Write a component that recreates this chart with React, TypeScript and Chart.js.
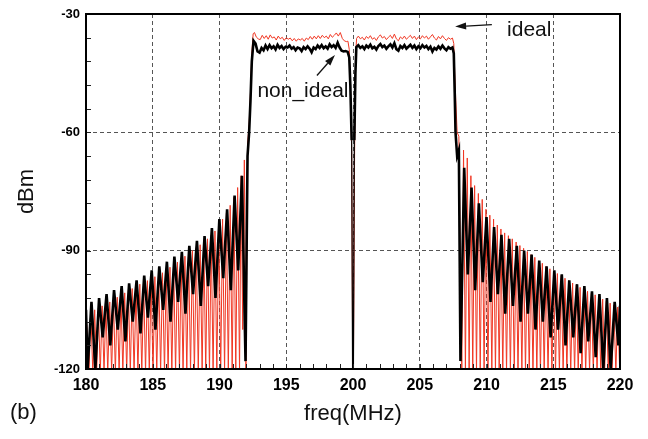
import React, { useEffect, useRef } from 'react';
import { Chart, registerables } from 'chart.js';
Chart.register(...registerables);

type P = [number, number];

const X_MIN = 180;
const X_MAX = 220;
const Y_MIN = -120;
const Y_MAX = -30;
const X_STEP = 5;
const Y_STEP = 30;

// non_ideal (black) trace
const nonIdealSkirtLeft: P[] = [
  [180.0, -105], [180.12, -120], [180.41, -103], [180.7, -120], [180.98, -102], [181.25, -112],
  [181.54, -101], [181.82, -114], [182.1, -100], [182.38, -110], [182.67, -99], [182.95, -113],
  [183.23, -98.3], [183.5, -108], [183.79, -97.5], [184.08, -111], [184.36, -96.3], [184.64, -107],
  [184.92, -95], [185.2, -110], [185.49, -94], [185.78, -105], [186.06, -92.8], [186.33, -108],
  [186.62, -91.5], [186.9, -103], [187.18, -90.3], [187.45, -106], [187.74, -88.8], [188.02, -101],
  [188.31, -87.5], [188.6, -104], [188.88, -86.3], [189.15, -99], [189.43, -84.3], [189.7, -102],
  [189.99, -82], [190.28, -97], [190.57, -79.5], [190.85, -100], [191.13, -76], [191.4, -95],
  [191.68, -71], [191.95, -118], [192.1, -66], [192.22, -60], [192.32, -52], [192.42, -42], [192.55, -36.8],
];
const nonIdealPassLeft: P[] = [
  [192.7, -37.5], [192.85, -39.5], [193.0, -39.8], [193.15, -38.6], [193.3, -39.2], [193.45, -38.0],
  [193.6, -38.9], [193.75, -37.9], [193.9, -38.7], [194.05, -38.2], [194.2, -39.0], [194.35, -37.8],
  [194.5, -38.6], [194.65, -38.1], [194.8, -38.9], [194.95, -38.3], [195.1, -38.5], [195.25, -38.0],
  [195.4, -38.8], [195.55, -38.4], [195.7, -39.2], [195.85, -38.5], [196.0, -38.7], [196.15, -39.4],
  [196.3, -38.4], [196.45, -38.9], [196.6, -38.2], [196.75, -38.8], [196.9, -39.7], [197.05, -38.5],
  [197.2, -38.9], [197.35, -38.0], [197.5, -38.6], [197.65, -37.9], [197.8, -38.7], [197.95, -38.2],
  [198.1, -38.8], [198.25, -37.7], [198.4, -38.4], [198.55, -37.9], [198.7, -38.6], [198.85, -37.3],
  [199.0, -38.5], [199.15, -39.3], [199.3, -39.5], [199.45, -39.4], [199.6, -39.6],
];
const nonIdealNotch: P[] = [
  [199.72, -41], [199.8, -48], [199.9, -62], [199.97, -121], [200.03, -121], [200.1, -62], [200.18, -45],
];
const nonIdealPassRight: P[] = [
  [200.25, -38.4], [200.4, -37.9], [200.55, -38.6], [200.7, -38.2], [200.85, -38.9], [201.0, -38.0],
  [201.15, -38.5], [201.3, -37.8], [201.45, -38.7], [201.6, -38.3], [201.75, -39.0], [201.9, -38.1],
  [202.05, -37.6], [202.2, -38.4], [202.35, -38.0], [202.5, -38.8], [202.65, -38.2], [202.8, -37.7],
  [202.95, -38.5], [203.1, -37.4], [203.25, -38.9], [203.4, -39.3], [203.55, -38.1], [203.7, -38.6],
  [203.85, -37.9], [204.0, -38.8], [204.15, -38.3], [204.3, -37.8], [204.45, -38.6], [204.6, -38.0],
  [204.75, -38.9], [204.9, -38.2], [205.05, -38.7], [205.2, -37.9], [205.35, -38.5], [205.5, -38.1],
  [205.65, -38.9], [205.8, -38.3], [205.95, -39.5], [206.1, -38.6], [206.25, -39.0], [206.4, -38.2],
  [206.55, -38.8], [206.7, -38.0], [206.85, -38.7], [207.0, -39.2], [207.15, -38.4], [207.3, -38.8],
  [207.45, -38.5],
];
const nonIdealSkirtRight: P[] = [
  [207.55, -40], [207.62, -50], [207.68, -60], [207.8, -66], [207.93, -64.5], [208.05, -118],
  [208.33, -69], [208.6, -96], [208.88, -74], [209.15, -100], [209.43, -78], [209.72, -98],
  [210.0, -81.5], [210.3, -103], [210.57, -84], [210.85, -101], [211.12, -86], [211.4, -106],
  [211.7, -87], [211.98, -104], [212.27, -88.8], [212.55, -108], [212.82, -90], [213.1, -106],
  [213.38, -91], [213.67, -110], [213.95, -92.5], [214.22, -108], [214.5, -94], [214.8, -112],
  [215.08, -95], [215.36, -110], [215.64, -96], [215.92, -114], [216.2, -97.5], [216.5, -112],
  [216.78, -98.5], [217.05, -116], [217.33, -99], [217.62, -113], [217.9, -100.3], [218.18, -117],
  [218.46, -101], [218.75, -120], [219.02, -102], [219.3, -120], [219.6, -103], [219.88, -114],
  [220.0, -104],
];

// ideal (red) trace
const idealSkirtLeft: P[] = [
  [180.0, -106.5], [180.08, -110], [180.22, -121], [180.36, -105.5], [180.51, -121], [180.65, -105],
  [180.8, -121], [180.93, -104.5], [181.07, -121], [181.21, -104], [181.35, -121], [181.49, -103.5],
  [181.63, -121], [181.78, -103], [181.92, -121], [182.06, -102.3], [182.2, -121], [182.34, -101.8],
  [182.48, -121], [182.62, -101.3], [182.76, -121], [182.9, -100.7], [183.05, -121], [183.18, -100],
  [183.32, -121], [183.46, -99.6], [183.6, -121], [183.75, -99.2], [183.89, -121], [184.03, -98.5],
  [184.18, -121], [184.32, -98.1], [184.46, -121], [184.6, -97.6], [184.74, -121], [184.88, -97.0],
  [185.02, -121], [185.16, -96.6], [185.3, -121], [185.45, -96.0], [185.59, -121], [185.73, -95.6],
  [185.88, -121], [186.01, -94.8], [186.15, -121], [186.29, -94.2], [186.43, -121], [186.57, -93.5],
  [186.71, -121], [186.85, -92.9], [187.0, -121], [187.13, -92.1], [187.27, -121], [187.41, -91.4],
  [187.55, -121], [187.69, -90.7], [187.83, -121], [187.97, -90.0], [188.12, -121], [188.26, -89.2],
  [188.41, -121], [188.55, -88.5], [188.7, -121], [188.83, -87.8], [188.97, -121], [189.1, -87.0],
  [189.25, -121], [189.38, -86.0], [189.52, -121], [189.66, -85.0], [189.8, -121], [189.95, -83.5],
  [190.09, -121], [190.23, -82.0], [190.38, -121], [190.52, -80.5], [190.66, -121], [190.8, -78.5],
  [190.95, -121], [191.08, -76.5], [191.22, -121], [191.36, -74], [191.5, -121], [191.62, -71],
  [191.74, -110], [191.86, -67], [191.98, -121], [192.1, -63], [192.22, -58], [192.32, -50],
  [192.42, -40], [192.52, -35.0],
];
const idealPassLeft: P[] = [
  [192.62, -34.7], [192.75, -35.8], [192.9, -36.3], [193.05, -36.5], [193.2, -35.4], [193.35, -36.2],
  [193.5, -35.5], [193.65, -36.4], [193.8, -35.3], [193.95, -36.1], [194.1, -35.8], [194.25, -36.6],
  [194.4, -35.6], [194.55, -36.3], [194.7, -35.9], [194.85, -36.7], [195.0, -36.0], [195.15, -36.4],
  [195.3, -36.1], [195.45, -36.8], [195.6, -36.2], [195.75, -36.9], [195.9, -36.3], [196.05, -36.6],
  [196.2, -36.2], [196.35, -36.9], [196.5, -36.1], [196.65, -36.5], [196.8, -35.7], [196.95, -36.4],
  [197.1, -35.6], [197.25, -36.3], [197.4, -35.5], [197.55, -36.2], [197.7, -35.4], [197.85, -36.0],
  [198.0, -35.6], [198.15, -36.3], [198.3, -35.2], [198.45, -35.9], [198.6, -35.4], [198.75, -34.8],
  [198.9, -35.6], [199.05, -34.7], [199.2, -36.2], [199.35, -36.8], [199.5, -37.0], [199.62, -36.9],
];
const idealNotch: P[] = [
  [199.72, -39], [199.82, -50], [199.9, -65], [199.98, -121], [200.03, -121], [200.12, -65], [200.2, -40],
];
const idealPassRight: P[] = [
  [200.27, -36.2], [200.4, -35.6], [200.55, -36.3], [200.7, -35.9], [200.85, -36.6], [201.0, -35.7],
  [201.15, -36.2], [201.3, -35.5], [201.45, -36.4], [201.6, -36.0], [201.75, -36.7], [201.9, -35.8],
  [202.05, -35.3], [202.2, -36.1], [202.35, -35.7], [202.5, -36.5], [202.65, -35.9], [202.8, -35.4],
  [202.95, -36.2], [203.1, -35.1], [203.25, -36.3], [203.4, -36.8], [203.55, -35.8], [203.7, -36.3],
  [203.85, -35.6], [204.0, -36.4], [204.15, -35.9], [204.3, -35.4], [204.45, -36.2], [204.6, -35.6],
  [204.75, -36.5], [204.9, -35.8], [205.05, -36.3], [205.2, -35.5], [205.35, -36.1], [205.5, -35.6],
  [205.65, -36.4], [205.8, -35.8], [205.95, -35.2], [206.1, -36.1], [206.25, -36.6], [206.4, -35.7],
  [206.55, -36.3], [206.7, -35.5], [206.85, -36.2], [207.0, -36.7], [207.15, -36.0], [207.3, -36.4],
  [207.45, -36.1],
];
const idealSkirtRight: P[] = [
  [207.55, -37.5], [207.62, -45], [207.7, -52], [207.8, -60], [207.93, -61], [208.04, -90],
  [208.15, -121], [208.28, -64.5], [208.42, -121], [208.56, -66.5], [208.7, -121], [208.83, -71],
  [208.97, -121], [209.11, -73.5], [209.25, -121], [209.39, -75.5], [209.53, -121], [209.68, -77],
  [209.82, -121], [209.96, -79.5], [210.11, -121], [210.25, -81], [210.4, -121], [210.53, -82],
  [210.67, -121], [210.81, -83.5], [210.95, -121], [211.08, -84.5], [211.22, -121], [211.36, -85.5],
  [211.5, -121], [211.64, -86.2], [211.79, -121], [211.93, -87], [212.08, -121], [212.22, -87.8],
  [212.36, -121], [212.5, -88.7], [212.65, -121], [212.78, -89.4], [212.92, -121], [213.06, -90.2],
  [213.2, -121], [213.34, -91], [213.48, -121], [213.62, -91.7], [213.77, -121], [213.9, -92.6],
  [214.04, -121], [214.18, -93.2], [214.32, -121], [214.46, -94], [214.61, -121], [214.75, -94.6],
  [214.9, -121], [215.03, -95.2], [215.17, -121], [215.31, -95.8], [215.46, -121], [215.6, -96.3],
  [215.74, -121], [215.88, -97], [216.02, -121], [216.16, -97.6], [216.31, -121], [216.45, -98.2],
  [216.6, -121], [216.73, -98.7], [216.87, -121], [217.01, -99.3], [217.15, -121], [217.29, -99.8],
  [217.43, -121], [217.57, -100.3], [217.72, -121], [217.86, -100.8], [218.0, -121], [218.14, -101.2],
  [218.28, -121], [218.42, -101.8], [218.56, -121], [218.7, -102.3], [218.85, -121], [218.98, -102.8],
  [219.12, -121], [219.26, -103.3], [219.4, -121], [219.54, -103.8], [219.69, -121], [219.83, -104.3],
  [219.98, -121], [220.0, -106],
];

const nonIdealPts = [...nonIdealSkirtLeft, ...nonIdealPassLeft, ...nonIdealNotch, ...nonIdealPassRight, ...nonIdealSkirtRight];
const idealPts = [...idealSkirtLeft, ...idealPassLeft, ...idealNotch, ...idealPassRight, ...idealSkirtRight];

// annotation anchors in data units
const idealLabel = { text: 'ideal', x: 213.2, y: -34.0, tail: [210.4, -32.7], tip: [207.65, -33.2] };
const nonIdealLabel = { text: 'non_ideal', x: 196.25, y: -49.6, tail: [197.3, -45.6], tip: [198.65, -40.4] };

const FONT = "'Liberation Sans', Arial, sans-serif";

function drawArrow(ctx: CanvasRenderingContext2D, x1: number, y1: number, x2: number, y2: number) {
  const ang = Math.atan2(y2 - y1, x2 - x1);
  const len = 11;
  const half = 3.5;
  const bx = x2 - len * Math.cos(ang);
  const by = y2 - len * Math.sin(ang);
  ctx.beginPath();
  ctx.moveTo(x1, y1);
  ctx.lineTo(bx, by);
  ctx.strokeStyle = '#111';
  ctx.lineWidth = 1.3;
  ctx.stroke();
  ctx.beginPath();
  ctx.moveTo(x2, y2);
  ctx.lineTo(bx - half * Math.sin(ang), by + half * Math.cos(ang));
  ctx.lineTo(bx + half * Math.sin(ang), by - half * Math.cos(ang));
  ctx.closePath();
  ctx.fillStyle = '#111';
  ctx.fill();
}

const decorPlugin = {
  id: 'decor',
  afterDraw(chart: any) {
    const { ctx, chartArea } = chart;
    const xs = chart.scales.x;
    const ys = chart.scales.y;
    ctx.save();
    ctx.strokeStyle = '#222';
    ctx.lineWidth = 1;
    for (let v = X_MIN; v <= X_MAX; v += 1) {
      const px = Math.round(xs.getPixelForValue(v)) + 0.5;
      ctx.beginPath();
      ctx.moveTo(px, chartArea.bottom);
      ctx.lineTo(px, chartArea.bottom - 5);
      ctx.stroke();
    }
    for (let v = Y_MIN; v <= Y_MAX; v += 6) {
      const py = Math.round(ys.getPixelForValue(v)) + 0.5;
      ctx.beginPath();
      ctx.moveTo(chartArea.left, py);
      ctx.lineTo(chartArea.left + 5, py);
      ctx.stroke();
    }
    ctx.strokeStyle = '#000';
    ctx.lineWidth = 2;
    ctx.strokeRect(chartArea.left, chartArea.top, chartArea.right - chartArea.left, chartArea.bottom - chartArea.top);
    ctx.fillStyle = '#111';
    ctx.font = `21px ${FONT}`;
    ctx.textAlign = 'center';
    ctx.textBaseline = 'middle';
    for (const a of [idealLabel, nonIdealLabel]) {
      ctx.fillText(a.text, xs.getPixelForValue(a.x), ys.getPixelForValue(a.y));
      drawArrow(ctx,
        xs.getPixelForValue(a.tail[0]), ys.getPixelForValue(a.tail[1]),
        xs.getPixelForValue(a.tip[0]), ys.getPixelForValue(a.tip[1]));
    }
    ctx.font = `22px ${FONT}`;
    ctx.textAlign = 'left';
    ctx.fillText('(b)', 10, 413);
    ctx.restore();
  },
};

export default function App() {
  const ref = useRef<HTMLCanvasElement | null>(null);
  useEffect(() => {
    if (!ref.current) return;
    const chart = new Chart(ref.current, {
      type: 'scatter',
      data: {
        datasets: [
          {
            label: 'non_ideal',
            data: nonIdealPts.map(([x, y]) => ({ x, y })),
            showLine: true,
            borderColor: '#000000',
            borderWidth: 2.6,
            pointRadius: 0,
            segment: {
              borderWidth: (c: any) =>
                c.p0.parsed.x > 199.5 && c.p1.parsed.x < 200.5 && c.p0.parsed.y < -55 && c.p1.parsed.y < -55 ? 1.2 : undefined,
            },
          },
          {
            label: 'ideal',
            data: idealPts.map(([x, y]) => ({ x, y })),
            showLine: true,
            borderColor: 'rgb(240,55,35)',
            borderWidth: 1,
            pointRadius: 0,
          },
        ],
      },
      options: {
        responsive: false,
        animation: false,
        layout: { padding: { top: 14, right: 28, left: 0, bottom: 0 } },
        plugins: { legend: { display: false }, tooltip: { enabled: false } },
        scales: {
          x: {
            type: 'linear',
            min: X_MIN,
            max: X_MAX,
            afterFit: (s: any) => { s.height = 70; },
            ticks: { stepSize: X_STEP, color: '#000', font: { family: FONT, size: 16, weight: 'bold' }, padding: 7 },
            grid: { color: '#555', lineWidth: 1, drawTicks: false },
            border: { display: false, dash: [4, 3] },
            title: { display: true, text: 'freq(MHz)', color: '#111', font: { family: FONT, size: 22 }, padding: { bottom: 12 } },
          },
          y: {
            type: 'linear',
            min: Y_MIN,
            max: Y_MAX,
            afterFit: (s: any) => { s.width = 86; },
            ticks: { stepSize: Y_STEP, color: '#000', font: { family: FONT, size: 13, weight: 'bold' }, padding: 6 },
            grid: { color: '#555', lineWidth: 1, drawTicks: false },
            border: { display: false, dash: [4, 3] },
            title: { display: true, text: 'dBm', color: '#111', font: { family: FONT, size: 22 }, padding: { top: 14 } },
          },
        },
      },
      plugins: [decorPlugin],
    } as any);
    return () => chart.destroy();
  }, []);
  return (
    <div style={{ position: 'fixed', left: 0, top: 0, width: 648, height: 439, background: '#fff' }}>
      <canvas ref={ref} width={648} height={439} style={{ width: 648, height: 439 }} />
    </div>
  );
}
